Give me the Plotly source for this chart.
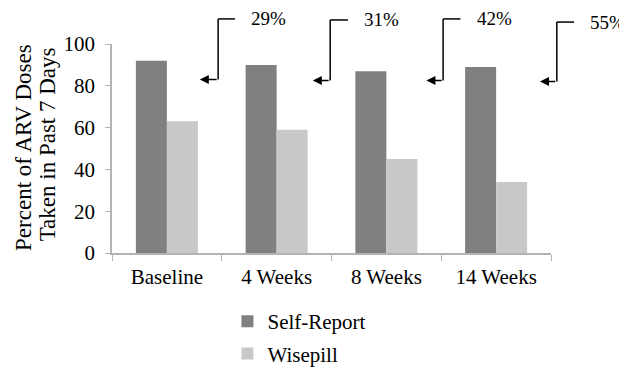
import plotly.graph_objects as go

categories = ["Baseline", "4 Weeks", "8 Weeks", "14 Weeks"]
self_report = [92, 90, 87, 89]
wisepill = [63, 59, 45, 34]
diff_labels = ["29%", "31%", "42%", "55%"]
y_ticks = [0, 20, 40, 60, 80, 100]
y_title_lines = ["Percent of ARV Doses", "Taken in Past 7 Days"]
Y_MAX = 100

FONT = "Liberation Serif, Times New Roman, serif"
AXIS_COL = "#b3b3b3"

fig = go.Figure()
fig.add_trace(go.Bar(name="Self-Report", x=categories, y=self_report,
                     marker=dict(color="#808080", line=dict(width=0)),
                     legendgroup="a"))
fig.add_trace(go.Bar(name="Wisepill", x=categories, y=wisepill,
                     marker=dict(color="#c8c8c8", line=dict(width=0)),
                     legendgroup="b"))

n = len(categories)


def px_(i, off):
    # category index + offset -> paper x (axis range is [-0.5, n-0.5])
    return (i + 0.5 + off) / n


def py_(v):
    return v / Y_MAX


# bracket arrows: (vertical x offset, arrow tip offset, top end offset, top y, bottom y)
brackets = [
    (0.467, 0.30, 0.62, 112, 83),
    (0.488, 0.33, 0.65, 111.5, 82.5),
    (0.517, 0.365, 0.675, 112, 82.5),
    (0.553, 0.40, 0.71, 110.5, 82),
]
shapes = []
annotations = []
line_style = dict(color="black", width=1.5)
for i, (lab, (vx, tip, topx, ty, by)) in enumerate(zip(diff_labels, brackets)):
    shapes.append(dict(type="line", xref="paper", yref="paper",
                       x0=px_(i, topx), x1=px_(i, vx), y0=py_(ty), y1=py_(ty),
                       line=line_style))
    shapes.append(dict(type="line", xref="paper", yref="paper",
                       x0=px_(i, vx), x1=px_(i, vx), y0=py_(ty), y1=py_(by),
                       line=line_style))
    annotations.append(dict(x=i + tip, y=by, xref="x", yref="y",
                            axref="x", ayref="y", ax=i + vx, ay=by, text="",
                            showarrow=True, arrowhead=2, arrowsize=1.2,
                            arrowwidth=1.5, arrowcolor="black",
                            standoff=0, startstandoff=0))
    annotations.append(dict(x=px_(i, topx + 0.13), y=py_(ty), xref="paper", yref="paper",
                            text=lab, showarrow=False, xanchor="left", yanchor="middle",
                            font=dict(family=FONT, size=19, color="black")))

# y-axis title as two rotated lines
for line_text, xpos, ypos in zip(y_title_lines, [-0.203, -0.148], [0.507, 0.52]):
    annotations.append(dict(x=xpos, y=ypos, xref="paper", yref="paper", text=line_text,
                            textangle=-90, showarrow=False, xanchor="center",
                            yanchor="middle",
                            font=dict(family=FONT, size=23, color="black")))

fig.update_layout(
    width=619, height=361,
    margin=dict(l=104, r=76, t=36, b=116, autoexpand=False),
    paper_bgcolor="white", plot_bgcolor="white",
    barmode="group", bargap=0.435, bargroupgap=0,
    font=dict(family=FONT, size=21, color="black"),
    showlegend=True,
    legend=dict(orientation="v", x=0.263, y=-0.23, xanchor="left", yanchor="top",
                traceorder="grouped", tracegroupgap=2,
                font=dict(family=FONT, size=21, color="black"),
                bgcolor="rgba(0,0,0,0)"),
    shapes=shapes,
    annotations=annotations,
)
fig.update_xaxes(range=[-0.5, n - 0.5], showline=True, linecolor=AXIS_COL, linewidth=1.5,
                 ticks="outside", tickson="boundaries", ticklen=6,
                 tickcolor=AXIS_COL, showgrid=False, ticklabelstandoff=4,
                 tickfont=dict(family=FONT, size=21, color="black"))
fig.update_yaxes(range=[0, Y_MAX], tickvals=y_ticks, showline=True,
                 linecolor=AXIS_COL, linewidth=1.5, ticks="outside", ticklen=5,
                 tickcolor=AXIS_COL, showgrid=False, zeroline=False,
                 ticklabelstandoff=6,
                 tickfont=dict(family=FONT, size=21, color="black"))

fig.write_html("out.html")
